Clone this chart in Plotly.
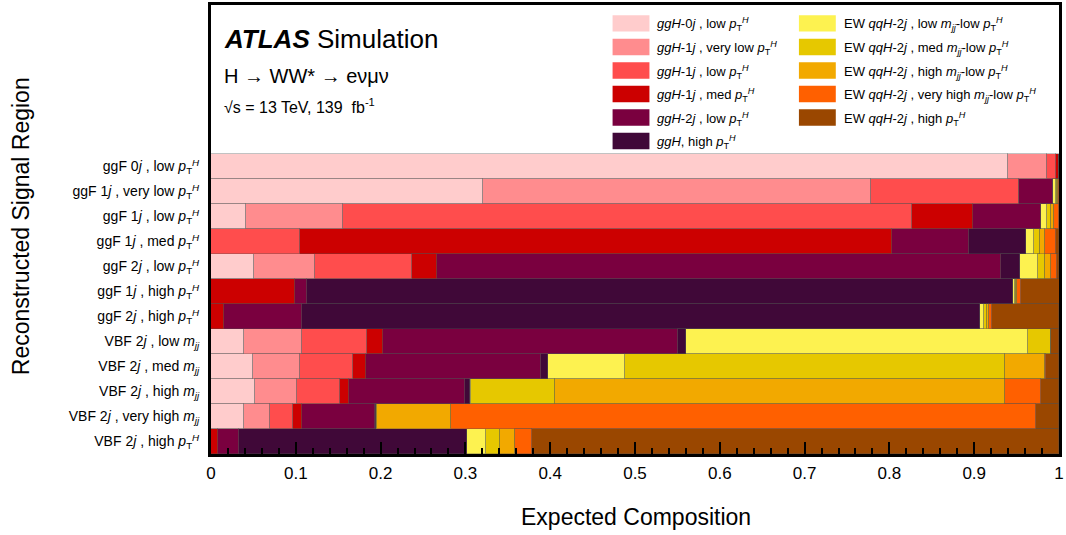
import plotly.graph_objects as go

# ---------------- data (rows listed top -> bottom) ----------------
regions = [
    "ggF 0<i>j</i> , low <i>p</i><sub>T</sub><sup><i>H</i></sup>",
    "ggF 1<i>j</i> , very low <i>p</i><sub>T</sub><sup><i>H</i></sup>",
    "ggF 1<i>j</i> , low <i>p</i><sub>T</sub><sup><i>H</i></sup>",
    "ggF 1<i>j</i> , med <i>p</i><sub>T</sub><sup><i>H</i></sup>",
    "ggF 2<i>j</i> , low <i>p</i><sub>T</sub><sup><i>H</i></sup>",
    "ggF 1<i>j</i> , high <i>p</i><sub>T</sub><sup><i>H</i></sup>",
    "ggF 2<i>j</i> , high <i>p</i><sub>T</sub><sup><i>H</i></sup>",
    "VBF 2<i>j</i> , low <i>m<sub>jj</sub></i>",
    "VBF 2<i>j</i> , med <i>m<sub>jj</sub></i>",
    "VBF 2<i>j</i> , high <i>m<sub>jj</sub></i>",
    "VBF 2<i>j</i> , very high <i>m<sub>jj</sub></i>",
    "VBF 2<i>j</i> , high <i>p</i><sub>T</sub><sup><i>H</i></sup>",
]

ggH0j_low  = [0.940, 0.321, 0.041, 0.000, 0.051, 0.000, 0.000, 0.039, 0.050, 0.052, 0.039, 0.000]
ggH1j_vlow = [0.046, 0.457, 0.115, 0.000, 0.072, 0.000, 0.000, 0.068, 0.055, 0.049, 0.031, 0.000]
ggH1j_low  = [0.011, 0.175, 0.671, 0.105, 0.114, 0.000, 0.000, 0.077, 0.063, 0.051, 0.027, 0.000]
ggH1j_med  = [0.003, 0.000, 0.072, 0.698, 0.030, 0.099, 0.015, 0.019, 0.015, 0.011, 0.010, 0.008]
ggH2j_low  = [0.000, 0.040, 0.080, 0.091, 0.665, 0.014, 0.092, 0.348, 0.206, 0.136, 0.086, 0.025]
ggH_high   = [0.000, 0.000, 0.000, 0.067, 0.022, 0.833, 0.800, 0.009, 0.008, 0.006, 0.002, 0.269]
ew_low     = [0.000, 0.003, 0.007, 0.009, 0.021, 0.002, 0.005, 0.404, 0.091, 0.002, 0.000, 0.022]
ew_med     = [0.000, 0.002, 0.004, 0.007, 0.009, 0.001, 0.003, 0.026, 0.448, 0.099, 0.001, 0.017]
ew_high    = [0.000, 0.001, 0.004, 0.006, 0.007, 0.002, 0.002, 0.000, 0.047, 0.530, 0.087, 0.017]
ew_vhigh   = [0.000, 0.001, 0.006, 0.013, 0.007, 0.004, 0.004, 0.000, 0.002, 0.043, 0.690, 0.021]
ew_highpt  = [0.000, 0.000, 0.000, 0.004, 0.002, 0.046, 0.079, 0.010, 0.015, 0.021, 0.027, 0.621]

PT = "<i>p</i><sub>T</sub><sup><i>H</i></sup>"
MJJ = "<i>m<sub>jj</sub></i>"
series_names = [
    "<i>ggH</i>-0<i>j</i> , low " + PT,
    "<i>ggH</i>-1<i>j</i> , very low " + PT,
    "<i>ggH</i>-1<i>j</i> , low " + PT,
    "<i>ggH</i>-1<i>j</i> , med " + PT,
    "<i>ggH</i>-2<i>j</i> , low " + PT,
    "<i>ggH</i>, high " + PT,
    "EW <i>qqH</i>-2<i>j</i> , low " + MJJ + "-low " + PT,
    "EW <i>qqH</i>-2<i>j</i> , med " + MJJ + "-low " + PT,
    "EW <i>qqH</i>-2<i>j</i> , high " + MJJ + "-low " + PT,
    "EW <i>qqH</i>-2<i>j</i> , very high " + MJJ + "-low " + PT,
    "EW <i>qqH</i>-2<i>j</i> , high " + PT,
]
series_values = [ggH0j_low, ggH1j_vlow, ggH1j_low, ggH1j_med, ggH2j_low, ggH_high,
                 ew_low, ew_med, ew_high, ew_vhigh, ew_highpt]
colors = ["#FFCCCC", "#FF8C8E", "#FF4D4D", "#CC0000", "#7A003F", "#400838",
          "#FDF250", "#E6C800", "#F2A900", "#FF6000", "#9A4700"]

x_ticks = [0, 0.1, 0.2, 0.3, 0.4, 0.5, 0.6, 0.7, 0.8, 0.9, 1]
x_ticklabels = ["0", "0.1", "0.2", "0.3", "0.4", "0.5", "0.6", "0.7", "0.8", "0.9", "1"]

# ---------------- figure ----------------
W, H = 1066, 535
L, R, T, B = 211, 4, 2, 81
FONT = "Liberation Sans, Arial, Helvetica, sans-serif"

fig = go.Figure()
for name, vals, col in zip(series_names, series_values, colors):
    fig.add_trace(go.Bar(
        y=regions, x=vals, orientation="h", name=name,
        marker=dict(color=col, line=dict(color="rgba(80,80,80,0.35)", width=1)),
        showlegend=False,
    ))

n = len(regions)
row_px = (H - B - 152) / n
top = (n - 0.5) + (152 - T) / row_px

fig.update_layout(
    width=W, height=H,
    margin=dict(l=L, r=R, t=T, b=B),
    barmode="stack", bargap=0,
    paper_bgcolor="white", plot_bgcolor="white",
    font=dict(family=FONT, color="black"),
)
fig.update_xaxes(
    range=[0, 1], tickvals=x_ticks, ticktext=x_ticklabels,
    ticks="inside", ticklen=12, tickwidth=2, tickcolor="black",
    minor=dict(ticks="inside", ticklen=6, tickwidth=2, tickcolor="black", dtick=0.02),
    showline=True, linewidth=3, linecolor="black", mirror=True,
    showgrid=False, zeroline=False, tickfont=dict(size=17), ticklabelstandoff=2,
)
fig.update_yaxes(
    type="category", categoryorder="array", categoryarray=regions[::-1],
    range=[-0.5, top], ticks="", showline=True, linewidth=3, linecolor="black",
    mirror=True, showgrid=False, zeroline=False, tickfont=dict(size=14),
    ticklabelstandoff=6,
)

def px(xp):
    return (xp - L) / (W - L - R)

def py(yp):
    return (H - B - yp) / (H - B - T)

ann = []
ann.append(dict(x=px(222), y=py(36), xref="paper", yref="paper", xanchor="left", yanchor="middle",
                text="<b><i>ATLAS</i></b> Simulation", showarrow=False, font=dict(size=26)))
ann.append(dict(x=px(222), y=py(73), xref="paper", yref="paper", xanchor="left", yanchor="middle",
                text="H → WW* → eνμν", showarrow=False, font=dict(size=20)))
ann.append(dict(x=px(222), y=py(104), xref="paper", yref="paper", xanchor="left", yanchor="middle",
                text="√s = 13 TeV, 139  fb<sup>-1</sup>", showarrow=False, font=dict(size=16)))
ann.append(dict(x=px(638), y=py(517), xref="paper", yref="paper", xanchor="center", yanchor="middle",
                text="Expected Composition", showarrow=False, font=dict(size=23)))
ann.append(dict(x=px(20), y=py(225), xref="paper", yref="paper", xanchor="center", yanchor="middle",
                text="Reconstructed Signal Region", textangle=-90, showarrow=False, font=dict(size=23)))

shapes = []
row_y = [20.5, 44.3, 68, 91.7, 115.3, 139]
for i, (name, col) in enumerate(zip(series_names, colors)):
    c = 0 if i < 6 else 1
    r = i if i < 6 else i - 6
    bx0 = 614 if c == 0 else 801
    cy = row_y[r]
    shapes.append(dict(type="rect", xref="paper", yref="paper",
                       x0=px(bx0), x1=px(bx0 + 37), y0=py(cy + 8.3), y1=py(cy - 8.3),
                       fillcolor=col, line=dict(width=0)))
    ann.append(dict(x=px(bx0 + 43), y=py(cy + 1), xref="paper", yref="paper",
                    xanchor="left", yanchor="middle", text=name, showarrow=False,
                    font=dict(size=13)))

fig.update_layout(annotations=ann, shapes=shapes)
fig.write_html("out.html", config={"displayModeBar": False},
               post_script="document.body.style.margin='0';document.body.style.overflow='hidden';")
